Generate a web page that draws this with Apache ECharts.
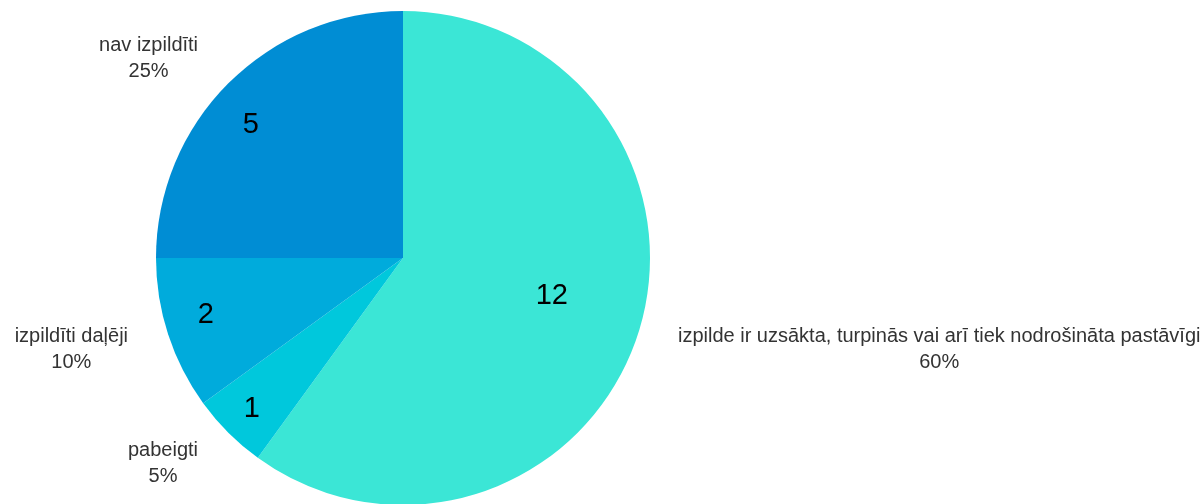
<!DOCTYPE html>
<html>
<head>
<meta charset="utf-8">
<script src="https://cdn.jsdelivr.net/npm/echarts@6/dist/echarts.min.js"></script>
<style>
html,body{margin:0;padding:0;background:#fff;}
#chart{width:1202px;height:504px;}
</style>
</head>
<body>
<div id="chart"></div>
<script>
const categories = [
  'izpilde ir uzsākta, turpinās vai arī tiek nodrošināta pastāvīgi',
  'pabeigti',
  'izpildīti daļēji',
  'nav izpildīti'
];
const values = [12, 1, 2, 5];
const colors = ['#3BE6D6', '#00C8DC', '#00ABDC', '#008DD4'];

// layout config (label nudges, not data)
const CENTER = [403, 258];
const R = 247;
const FONT = '"Liberation Sans", Arial, sans-serif';
const innerLabelOffsets = [[0, -10], [-3, 3], [2, -8], [-4, 15]];

const baseData = categories.map((c, i) => ({ name: c, value: values[i], itemStyle: { color: colors[i] } }));

function labelSeries(r0, showIdx) {
  return {
    type: 'pie',
    center: CENTER,
    radius: [r0, R],
    startAngle: 90,
    clockwise: true,
    silent: true,
    avoidLabelOverlap: false,
    itemStyle: { color: 'rgba(0,0,0,0)', borderWidth: 0 },
    labelLine: { show: false },
    data: categories.map((c, i) => ({
      name: c,
      value: values[i],
      label: {
        show: showIdx.indexOf(i) >= 0,
        position: 'inside',
        offset: innerLabelOffsets[i],
        formatter: '{c}',
        color: '#000',
        fontSize: 29,
        fontFamily: FONT
      }
    }))
  };
}

const chart = echarts.init(document.getElementById('chart'), null, { renderer: 'canvas' });
chart.setOption({
  backgroundColor: '#ffffff',
  animation: false,
  series: [
    {
      type: 'pie',
      center: CENTER,
      radius: R,
      startAngle: 90,
      clockwise: true,
      avoidLabelOverlap: false,
      itemStyle: { borderWidth: 0 },
      label: {
        show: true,
        position: 'outside',
        distanceToLabelLine: 2,
        padding: [6, 0, 0, 0],
        formatter: function (p) { return '{c|' + p.name + '}\n{c|' + Math.round(p.percent) + '%}'; },
        rich: {
          c: { align: 'center', fontSize: 20, lineHeight: 26, color: '#333', fontFamily: FONT }
        }
      },
      labelLine: { show: false, length: 40, length2: 0 },
      data: baseData
    },
    labelSeries(60, [0]),
    labelSeries(166, [1, 2, 3])
  ]
});
</script>
</body>
</html>
